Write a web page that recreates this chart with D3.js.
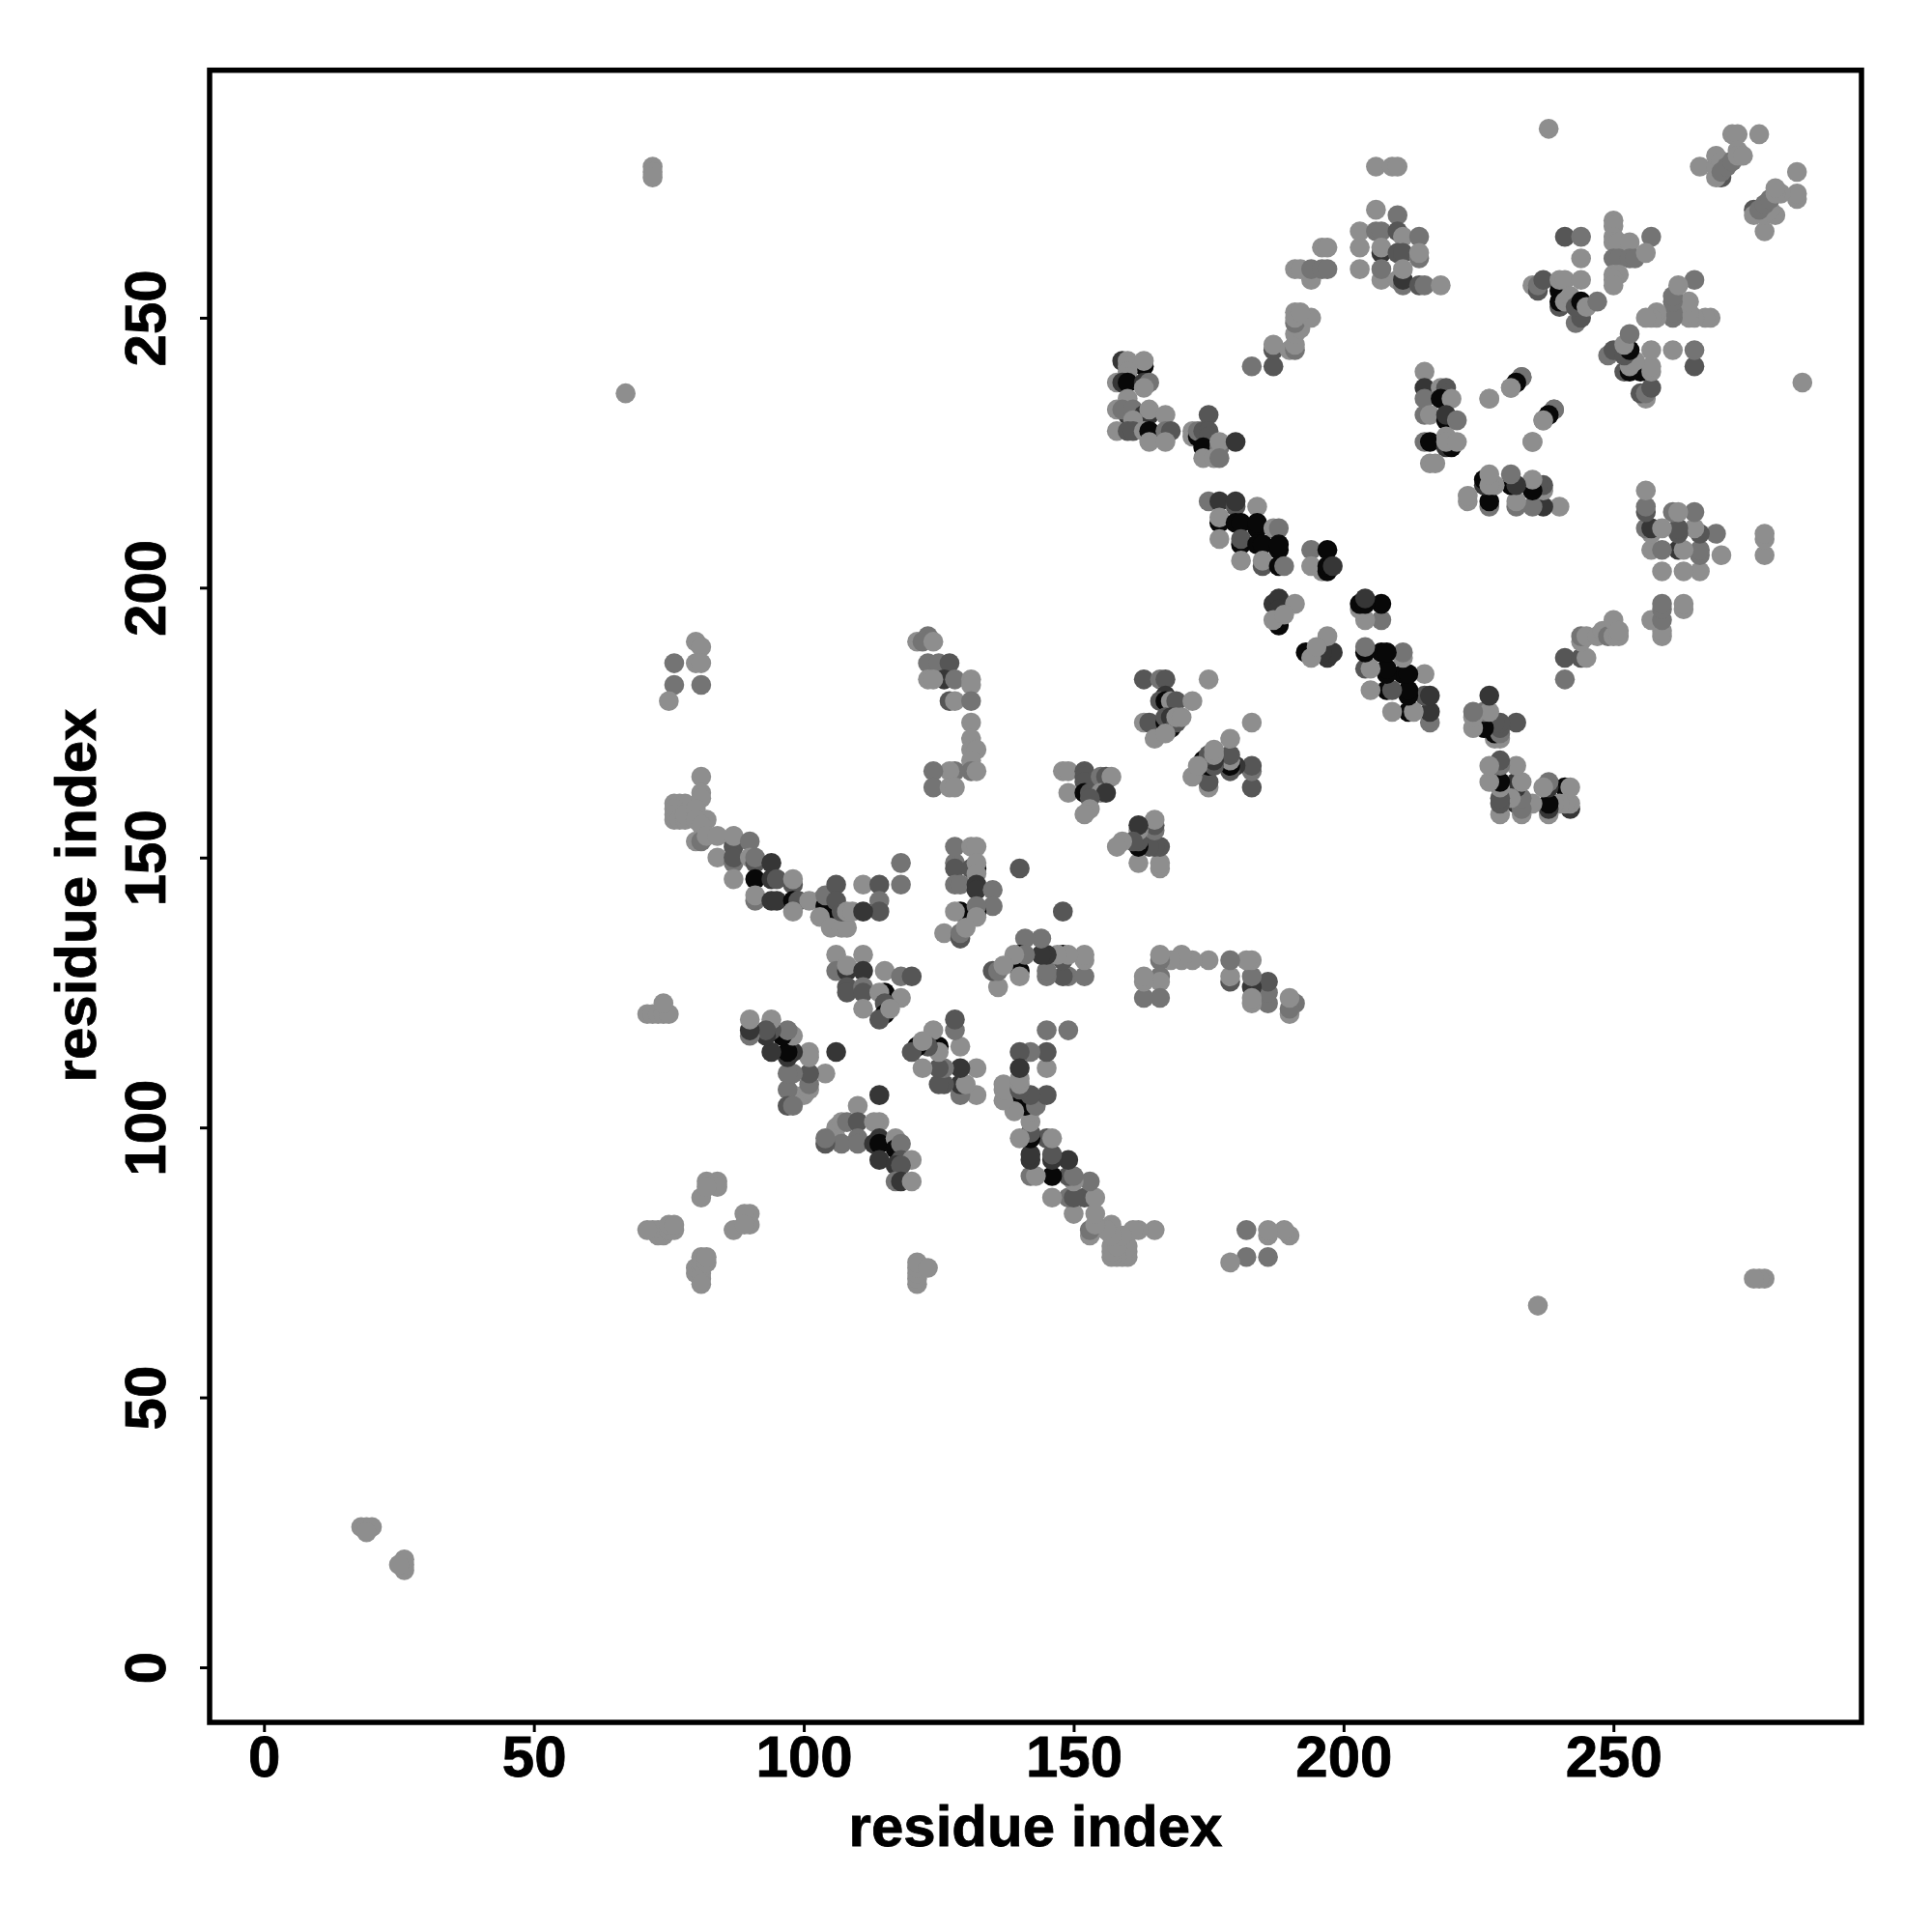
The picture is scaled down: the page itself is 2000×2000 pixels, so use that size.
<!DOCTYPE html>
<html><head><meta charset="utf-8">
<script src="https://cdn.jsdelivr.net/npm/d3@7"></script>
<style>html,body{margin:0;background:#fff}svg{display:block}</style></head>
<body><svg id="c" width="2000" height="2000"></svg>
<script>
// contacts [residue i, residue j, level]; the map is symmetric so each is drawn at (i,j) and (j,i)
const isolated=[[18,26,1],[19,26,1],[20,26,1],[19,25,1],[72,278,1],[72,277,1],[72,276,1],[67,236,1],[238,285,1],[140,148,3],[106,114,4]];
const helixLow=[[72,81,1],[73,81,1],[73,80,1],[74,80,1],[74,81,1],[75,81,1],[76,81,1],[75,82,1],[76,82,1],[71,81,1],[82,90,1],[84,90,1],[81,87,1],[84,89,1],[82,89,1],
[71,121,1],[72,121,1],[73,121,1],[74,121,1],[75,121,1],[74,123,1]];
const upperLeft=[[76,186,2],[76,182,2],[81,182,2],[75,179,1],[80,190,1],[81,189,1],[80,186,1],[81,186,1]];
const arcTop=[[123,191,2],[121,190,1],[122,190,2],[124,190,1],[123,186,2],[125,186,2],[127,186,3],[126,183,4],[123,183,1],[124,183,1],[127,179,3],[128,183,2],[128,179,1],[131,183,1],[131,182,1],[131,179,2],
[131,175,1],[131,172,1],[131,170,1],[132,170,1],[131,168,1],[131,166,2],[132,166,1],[128,166,2],[127,166,1],[124,166,2],[124,163,2],[127,163,1],[128,163,1]];
const arcMain=[[76,160,1],[77,160,1],[78,160,1],[76,159,1],[76,158,1],[76,157,1],[77,157,1],[78,157,1],[78,158,1],[81,165,1],[81,162,1],[81,161,1],[80,159,1],[82,157,1],[80,157,1],[81,156,1],[80,153,1],[81,153,2],[82,154,1],[84,154,1],[84,150,1],
[87,152,3],[87,154,1],[87,149,2],[87,150,3],[87,146,1],[90,153,2],[90,150,1],[91,149,3],[91,150,2],[94,149,4],[91,146,5],[94,146,4],[95,146,3],[91,142,2],[91,143,1],[94,142,4],[95,142,4],[98,145,3],[98,146,1],[98,142,5],[99,142,3],[101,142,1],[98,140,1],[103,142,1],
[105,139,5],[104,141,5],[104,143,2],[106,145,3],[106,142,3],[103,139,1],[105,137,1],[107,137,1],[108,137,1],[107,140,3],[108,140,1],[109,140,1],[111,145,1],[114,145,3],[114,142,2],[114,140,3],[111,140,4],[118,149,2],[118,145,2]];
const antiA=[[98,106,1],[100,106,1],[101,107,1],[101,108,2],[97,107,2],[97,104,3],[98,104,2],
[104,110,1],[101,110,3],[101,114,1],[101,113,1],[98,110,2],[97,110,2],[97,113,4],[98,114,4],[97,114,5],[94,114,4],[98,117,1],[96,117,5],[97,118,2],[94,118,3],[94,120,1],[93,117,4],[93,118,3],[90,117,2],[90,118,4],[90,120,1]];
const antiB=[[106,132,1],[106,129,2],[108,129,4],[108,130,1],[108,126,3],[108,125,3],[111,132,1],[111,129,4],[111,126,2],[111,125,3],[111,122,1],[115,125,5],[114,125,1],[115,129,1],[118,128,2],[118,124,1],[120,128,3],[115,123,3],[115,121,5],[114,120,3],[116,122,1]];
const antiC=[[128,149,2],[128,148,3],[128,152,2],[131,152,1],[132,152,1],[132,148,5],[131,148,3],[132,149,1],[132,147,1],[128,145,2],[129,145,2],[132,145,4],[132,144,4],[135,144,2],[135,141,2],[129,140,5],[128,140,1],[132,140,5],[132,141,2],[132,139,1],[126,136,1],[129,135,3],[129,136,2],[130,137,1]];
const antiD=[[148,166,1],[149,166,1],[152,166,3],[152,165,3],[152,164,3],[155,165,2],[156,165,3],[157,165,1],[149,162,1],[152,162,5],[153,162,3],[155,162,1],[156,162,4],[153,161,3],[153,159,1],[152,158,1]];
const antiE=[[163,183,3],[166,183,2],[167,183,3],[175,183,1],[167,180,4],[166,179,3],[167,179,5],[168,179,1],[169,179,3],[172,179,1],[163,175,1],[164,175,3],[167,175,5],[168,174,5],[167,176,3],[168,176,4],[169,175,3],[169,176,1],[170,176,1],[165,172,1],[167,173,1]];
const strandF=[[175,216,2],[177,216,4],[180,215,3],[180,216,4],[184,215,1],[177,212,5],[177,213,1],[180,212,5],[181,212,5],[184,211,5],[184,212,5],[187,211,1],[188,211,2],[181,208,5],[181,209,3],[177,209,1],[184,208,5],[185,208,5],[188,207,5],[188,208,5],[181,205,1],[185,204,3],[185,205,1],[188,204,5],[189,204,2],
[194,207,2],[197,207,5],[194,204,1],[196,203,1],[197,203,5],[197,204,5],[198,204,4],
[187,197,4],[188,198,4],[188,196,4],[191,197,1],[188,193,5],[187,194,1],[189,195,1]];
const upperG=[[159,242,4],[160,242,1],[163,241,5],[163,242,1],[160,241,1],[160,240,1],[160,239,1],[158,238,1],[159,238,4],[160,238,5],[163,238,4],[164,238,2],[163,237,1],[160,235,1],[160,232,4],[158,233,1],[159,233,2],[161,233,2],[163,232,4],[164,232,4],[164,233,1],[167,232,1],[161,231,1],[158,229,1],[160,229,3],[161,229,3],[163,229,1],[164,229,5],[164,227,1],[167,229,2],[168,229,3],[167,227,1]];
const upperH=[[175,232,3],[172,229,1],[172,228,1],[173,228,5],[173,229,2],[174,229,3],[175,229,3],[175,228,3],[174,226,5],[177,226,2],[177,227,1],[180,227,4],[174,224,1],[176,224,1],[177,224,2]];
const upperI=[[215,240,1],[215,237,4],[215,235,2],[218,237,1],[219,237,3],[219,236,3],[218,235,5],[220,235,1],[215,232,2],[216,232,1],[219,231,5],[219,232,4],[221,231,2],[215,227,2],[216,227,5],[219,226,4],[220,226,5],[219,228,1],[219,227,1],[221,227,1],[216,223,1],[217,223,1],
[233,239,2],[232,238,5],[231,237,1],[227,235,1],[239,233,2],[238,232,5],[237,231,1],[235,227,1]];
const upperJ=[[183,241,2],[187,241,3],[187,244,3],[187,245,1],[190,244,1],[191,244,2],[191,245,1],[191,247,1],[192,248,1],[191,249,2],[191,250,1],[194,250,1],[191,251,1],[192,251,1],[194,257,1],[191,259,1],[192,259,1],[194,259,2],[196,259,2],[197,259,2],[196,263,1],[197,263,1]];
const upperK=[[206,278,1],[209,278,1],[210,278,1],[206,270,1],[210,269,2],[203,266,1],[206,266,2],[207,266,2],[210,266,3],[211,265,1],[214,265,2],[203,263,1],[207,262,4],[207,263,1],[210,262,3],[211,262,3],[214,261,2],[214,262,1],[203,259,1],[207,257,1],[207,259,2],[210,257,1],[211,256,2],[211,257,4],[211,259,1],[214,256,3],[215,256,2],[218,256,1]];
const upperL=[[235,256,1],[236,255,3],[236,256,2],[237,257,3],[240,255,5],[240,257,1],[241,257,1],[244,257,1],[240,252,3],[240,253,5],[241,253,1],[242,254,1],[243,249,2],[244,250,3],[243,252,3],[244,253,5],[245,252,1],[247,253,2],[241,265,3],[244,265,2],[244,261,1]];
const upperM=[[250,268,1],[250,267,1],[250,265,1],[250,264,1],[251,264,1],[253,264,1],[257,265,2],[250,261,2],[251,261,2],[253,261,2],[254,261,2],[256,262,1],[250,258,1],[251,258,1],[250,257,1],[250,256,1]];
const upperN=[[272,284,1],[273,284,1],[277,284,1],[266,278,1],[270,276,3],[269,276,1],[269,278,1],[269,280,1],[270,279,1],[270,277,2],[271,278,2],[272,279,2],[273,281,1],[273,280,1],[274,280,1]];
const clusters=[isolated,helixLow,upperLeft,arcTop,arcMain,antiA,antiB,antiC,antiD,antiE,strandF,upperG,upperH,upperI,upperJ,upperK,upperL,upperM,upperN];
const levelDomain=[1,2,3,4,5];
const levelGreys=["#8e8e8e","#747474","#565656","#363636","#080808"];
const xTicks=[0,50,100,150,200,250];
const yTicks=[0,50,100,150,200,250];
const xTitle="residue index", yTitle="residue index";

const svg=d3.select("#c");
const L=217,R=1927,T=72.7,B=1783;
const x=d3.scaleLinear().domain([-10.07,295.95]).range([L,R]);
const y=d3.scaleLinear().domain([-10.2,295.85]).range([B,T]);
const col=d3.scaleOrdinal().domain(levelDomain).range(levelGreys);
const pts=clusters.flat().flatMap(([i,j,l])=>[{x:i,y:j,l},{x:j,y:i,l}]);
svg.append("g").selectAll("circle").data(pts).join("circle")
  .attr("cx",d=>x(d.x)).attr("cy",d=>y(d.y)).attr("r",10.3).attr("fill",d=>col(d.l));
svg.append("rect").attr("x",L).attr("y",T).attr("width",R-L).attr("height",B-T).attr("fill","none").attr("stroke","#000").attr("stroke-width",5.5);
const font="'Liberation Sans',Arial,sans-serif";
const gx=svg.append("g").attr("transform",`translate(0,${B})`).call(d3.axisBottom(x).tickValues(xTicks).tickSize(10).tickPadding(0));
const gy=svg.append("g").attr("transform",`translate(${L},0)`).call(d3.axisLeft(y).tickValues(yTicks).tickSize(10).tickPadding(0));
[gx,gy].forEach(g=>{g.select(".domain").remove();g.selectAll("line").attr("stroke","#000").attr("stroke-width",3);
  g.selectAll("text").attr("fill","#000").attr("stroke","#000").attr("stroke-width",0.8).style("font",`bold 60px ${font}`);});
gx.selectAll("text").attr("y",null).attr("dy",null).attr("transform","translate(0,56)").attr("text-anchor","middle");
gy.selectAll("text").attr("x",null).attr("dy",null).attr("text-anchor","middle").each(function(d){d3.select(this).attr("transform",`translate(-46,0) rotate(-90)`);});
svg.append("text").attr("x",1072).attr("y",1911).attr("text-anchor","middle").attr("stroke","#000").attr("stroke-width",0.8).style("font",`bold 60px ${font}`).text(xTitle);
svg.append("text").attr("transform","translate(99,927) rotate(-90)").attr("text-anchor","middle").attr("stroke","#000").attr("stroke-width",0.8).style("font",`bold 60px ${font}`).text(yTitle);
</script></body></html>
